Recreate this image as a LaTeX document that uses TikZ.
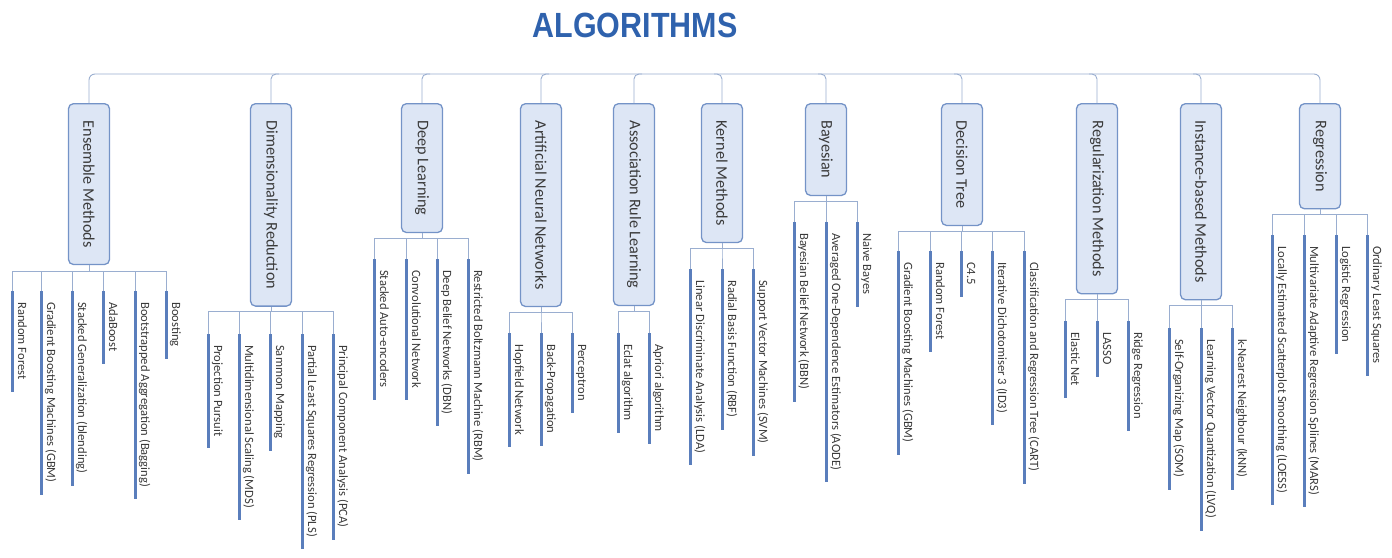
\documentclass[tikz,border=0pt]{standalone}
\usepackage{fontspec}
\setmainfont{Carlito}
\newfontfamily\headfont{Liberation Sans}
\definecolor{headblue}{HTML}{2F62AD}
\definecolor{boxfill}{HTML}{DDE6F5}
\definecolor{boxline}{HTML}{7493C7}
\definecolor{twigblue}{HTML}{9AAED0}
\definecolor{barblue}{HTML}{5A7EBC}
\definecolor{textgray}{HTML}{3A3A3A}
\begin{document}
\begin{tikzpicture}[x=1pt,y=-1pt,
		every node/.style={text=textgray},
		title/.style={text=headblue,font=\headfont\bfseries\fontsize{35}{35}\selectfont,xscale=0.87},
		cat/.style={draw=boxline,fill=boxfill,line width=1.3pt,rounded corners=5pt,rotate=-90,anchor=west,
			minimum height=41pt,inner xsep=17pt,font=\fontsize{16.2}{18}\selectfont},
		leaf/.style={rotate=-90,anchor=base west,inner sep=0pt,font=\fontsize{12.6}{14}\selectfont},
		twig/.style={draw=twigblue,line width=0.9pt},
		bar/.style={draw=barblue,line width=3pt}]
		
		\useasboundingbox (0,0) rectangle (1392,557);
		
		\node[title] (algo) at (635,25) {ALGORITHMS};
		\coordinate (top) at (635,74);
		
		\node[cat] (ens) at (89,103) {Ensemble Methods};
		\node[cat] (dim) at (271,103) {Dimensionality Reduction};
		\node[cat] (deep) at (422,103) {Deep Learning};
		\node[cat] (ann) at (541,103) {Artificial Neural Networks};
		\node[cat] (arl) at (634,103) {Association Rule Learning};
		\node[cat] (ker) at (722,103) {Kernel Methods};
		\node[cat] (bay) at (826,103) {Bayesian};
		\node[cat] (dt) at (962,103) {Decision Tree};
		\node[cat] (rgl) at (1097,103) {Regularization Methods};
		\node[cat] (ins) at (1201,103) {Instance-based Methods};
		\node[cat] (rgr) at (1320,103) {Regression};
		
		% top bus
		\draw[twig,rounded corners=6pt] (ens.west) |- (top) -| (rgr.west);
		\draw[twig,rounded corners=5pt] ([xshift=8pt]dim.west |- top) -| (dim.west);
		\draw[twig,rounded corners=5pt] ([xshift=8pt]deep.west |- top) -| (deep.west);
		\draw[twig,rounded corners=5pt] ([xshift=8pt]ann.west |- top) -| (ann.west);
		\draw[twig,rounded corners=5pt] ([xshift=8pt]arl.west |- top) -| (arl.west);
		\draw[twig,rounded corners=5pt] ([xshift=-8pt]ker.west |- top) -| (ker.west);
		\draw[twig,rounded corners=5pt] ([xshift=-8pt]bay.west |- top) -| (bay.west);
		\draw[twig,rounded corners=5pt] ([xshift=-8pt]dt.west |- top) -| (dt.west);
		\draw[twig,rounded corners=5pt] ([xshift=-8pt]rgl.west |- top) -| (rgl.west);
		\draw[twig,rounded corners=5pt] ([xshift=-8pt]ins.west |- top) -| (ins.west);
		
		% Ensemble Methods
		\coordinate (ens1) at (12,291);  \node[leaf] (ens1t) at ([shift={(6,11)}]ens1) {Random Forest};
		\coordinate (ens2) at (41,291);  \node[leaf] (ens2t) at ([shift={(6,11)}]ens2) {Gradient Boosting Machines (GBM)};
		\coordinate (ens3) at (72,291);  \node[leaf] (ens3t) at ([shift={(6,11)}]ens3) {Stacked Generalization (blending)};
		\coordinate (ens4) at (103,291); \node[leaf] (ens4t) at ([shift={(6,11)}]ens4) {AdaBoost};
		\coordinate (ens5) at (135,291); \node[leaf] (ens5t) at ([shift={(6,11)}]ens5) {Bootstrapped Aggregation (Bagging)};
		\coordinate (ens6) at (166,291); \node[leaf] (ens6t) at ([shift={(6,11)}]ens6) {Boosting};
		\draw[twig] (ens.east) -- ++(0,6) -| (ens1); \draw[bar] (ens1) -- ([yshift=-12pt]ens1 |- ens1t.east);
		\draw[twig] (ens.east) -- ++(0,6) -| (ens2); \draw[bar] (ens2) -- ([yshift=-12pt]ens2 |- ens2t.east);
		\draw[twig] (ens.east) -- ++(0,6) -| (ens3); \draw[bar] (ens3) -- ([yshift=-12pt]ens3 |- ens3t.east);
		\draw[twig] (ens.east) -- ++(0,6) -| (ens4); \draw[bar] (ens4) -- ([yshift=-12pt]ens4 |- ens4t.east);
		\draw[twig] (ens.east) -- ++(0,6) -| (ens5); \draw[bar] (ens5) -- ([yshift=-12pt]ens5 |- ens5t.east);
		\draw[twig] (ens.east) -- ++(0,6) -| (ens6); \draw[bar] (ens6) -- ([yshift=-12pt]ens6 |- ens6t.east);
		
		% Dimensionality Reduction
		\coordinate (dim1) at (208,334); \node[leaf] (dim1t) at ([shift={(6,11)}]dim1) {Projection Pursuit};
		\coordinate (dim2) at (239,334); \node[leaf] (dim2t) at ([shift={(6,11)}]dim2) {Multidimensional Scaling (MDS)};
		\coordinate (dim3) at (270,334); \node[leaf] (dim3t) at ([shift={(6,11)}]dim3) {Sammon Mapping};
		\coordinate (dim4) at (302,334); \node[leaf] (dim4t) at ([shift={(6,11)}]dim4) {Partial Least Squares Regression (PLS)};
		\coordinate (dim5) at (333,334); \node[leaf] (dim5t) at ([shift={(6,11)}]dim5) {Principal Component Analysis (PCA)};
		\draw[twig] (dim.east) -- ++(0,5) -| (dim1); \draw[bar] (dim1) -- ([yshift=-12pt]dim1 |- dim1t.east);
		\draw[twig] (dim.east) -- ++(0,5) -| (dim2); \draw[bar] (dim2) -- ([yshift=-12pt]dim2 |- dim2t.east);
		\draw[twig] (dim.east) -- ++(0,5) -| (dim3); \draw[bar] (dim3) -- ([yshift=-12pt]dim3 |- dim3t.east);
		\draw[twig] (dim.east) -- ++(0,5) -| (dim4); \draw[bar] (dim4) -- ([yshift=-12pt]dim4 |- dim4t.east);
		\draw[twig] (dim.east) -- ++(0,5) -| (dim5); \draw[bar] (dim5) -- ([yshift=-12pt]dim5 |- dim5t.east);
		
		% Deep Learning
		\coordinate (deep1) at (374,259); \node[leaf] (deep1t) at ([shift={(6,11)}]deep1) {Stacked Auto-encoders};
		\coordinate (deep2) at (406,259); \node[leaf] (deep2t) at ([shift={(6,11)}]deep2) {Convolutional Network};
		\coordinate (deep3) at (437,259); \node[leaf] (deep3t) at ([shift={(6,11)}]deep3) {Deep Belief Networks (DBN)};
		\coordinate (deep4) at (468,259); \node[leaf] (deep4t) at ([shift={(6,11)}]deep4) {Restricted Boltzmann Machine (RBM)};
		\draw[twig] (deep.east) -- ++(0,5) -| (deep1); \draw[bar] (deep1) -- ([yshift=-12pt]deep1 |- deep1t.east);
		\draw[twig] (deep.east) -- ++(0,5) -| (deep2); \draw[bar] (deep2) -- ([yshift=-12pt]deep2 |- deep2t.east);
		\draw[twig] (deep.east) -- ++(0,5) -| (deep3); \draw[bar] (deep3) -- ([yshift=-12pt]deep3 |- deep3t.east);
		\draw[twig] (deep.east) -- ++(0,5) -| (deep4); \draw[bar] (deep4) -- ([yshift=-12pt]deep4 |- deep4t.east);
		
		% Artificial Neural Networks
		\coordinate (ann1) at (509,333); \node[leaf] (ann1t) at ([shift={(6,11)}]ann1) {Hopfield Network};
		\coordinate (ann2) at (541,333); \node[leaf] (ann2t) at ([shift={(6,11)}]ann2) {Back-Propagation};
		\coordinate (ann3) at (572,333); \node[leaf] (ann3t) at ([shift={(6,11)}]ann3) {Perceptron};
		\draw[twig] (ann.east) -- ++(0,5) -| (ann1); \draw[bar] (ann1) -- ([yshift=-12pt]ann1 |- ann1t.east);
		\draw[twig] (ann.east) -- ++(0,5) -| (ann2); \draw[bar] (ann2) -- ([yshift=-12pt]ann2 |- ann2t.east);
		\draw[twig] (ann.east) -- ++(0,5) -| (ann3); \draw[bar] (ann3) -- ([yshift=-12pt]ann3 |- ann3t.east);
		
		% Association Rule Learning
		\coordinate (arl1) at (618,333); \node[leaf] (arl1t) at ([shift={(6,11)}]arl1) {Eclat algorithm};
		\coordinate (arl2) at (649,333); \node[leaf] (arl2t) at ([shift={(6,11)}]arl2) {Apriori algorithm};
		\draw[twig] (arl.east) -- ++(0,5) -| (arl1); \draw[bar] (arl1) -- ([yshift=-12pt]arl1 |- arl1t.east);
		\draw[twig] (arl.east) -- ++(0,5) -| (arl2); \draw[bar] (arl2) -- ([yshift=-12pt]arl2 |- arl2t.east);
		
		% Kernel Methods
		\coordinate (ker1) at (690,269); \node[leaf] (ker1t) at ([shift={(6,11)}]ker1) {Linear Discriminate Analysis (LDA)};
		\coordinate (ker2) at (722,269); \node[leaf] (ker2t) at ([shift={(6,11)}]ker2) {Radial Basis Function (RBF)};
		\coordinate (ker3) at (753,269); \node[leaf] (ker3t) at ([shift={(6,11)}]ker3) {Support Vector Machines (SVM)};
		\draw[twig] (ker.east) -- ++(0,5) -| (ker1); \draw[bar] (ker1) -- ([yshift=-12pt]ker1 |- ker1t.east);
		\draw[twig] (ker.east) -- ++(0,5) -| (ker2); \draw[bar] (ker2) -- ([yshift=-12pt]ker2 |- ker2t.east);
		\draw[twig] (ker.east) -- ++(0,5) -| (ker3); \draw[bar] (ker3) -- ([yshift=-12pt]ker3 |- ker3t.east);
		
		% Bayesian
		\coordinate (bay1) at (794,222); \node[leaf] (bay1t) at ([shift={(6,11)}]bay1) {Bayesian Belief Network (BBN)};
		\coordinate (bay2) at (826,222); \node[leaf] (bay2t) at ([shift={(6,11)}]bay2) {Averaged One-Dependence Estimators (AODE)};
		\coordinate (bay3) at (857,222); \node[leaf] (bay3t) at ([shift={(6,11)}]bay3) {Naive Bayes};
		\draw[twig] (bay.east) -- ++(0,5) -| (bay1); \draw[bar] (bay1) -- ([yshift=-12pt]bay1 |- bay1t.east);
		\draw[twig] (bay.east) -- ++(0,5) -| (bay2); \draw[bar] (bay2) -- ([yshift=-12pt]bay2 |- bay2t.east);
		\draw[twig] (bay.east) -- ++(0,5) -| (bay3); \draw[bar] (bay3) -- ([yshift=-12pt]bay3 |- bay3t.east);
		
		% Decision Tree
		\coordinate (dt1) at (898,251);  \node[leaf] (dt1t) at ([shift={(6,11)}]dt1) {Gradient Boosting Machines (GBM)};
		\coordinate (dt2) at (930,251);  \node[leaf] (dt2t) at ([shift={(6,11)}]dt2) {Random Forest};
		\coordinate (dt3) at (961,251);  \node[leaf] (dt3t) at ([shift={(6,11)}]dt3) {C4.5};
		\coordinate (dt4) at (992,251);  \node[leaf] (dt4t) at ([shift={(6,11)}]dt4) {Iterative Dichotomiser 3 (ID3)};
		\coordinate (dt5) at (1024,251); \node[leaf] (dt5t) at ([shift={(6,11)}]dt5) {Classification and Regression Tree (CART)};
		\draw[twig] (dt.east) -- ++(0,5) -| (dt1); \draw[bar] (dt1) -- ([yshift=-12pt]dt1 |- dt1t.east);
		\draw[twig] (dt.east) -- ++(0,5) -| (dt2); \draw[bar] (dt2) -- ([yshift=-12pt]dt2 |- dt2t.east);
		\draw[twig] (dt.east) -- ++(0,5) -| (dt3); \draw[bar] (dt3) -- ([yshift=-12pt]dt3 |- dt3t.east);
		\draw[twig] (dt.east) -- ++(0,5) -| (dt4); \draw[bar] (dt4) -- ([yshift=-12pt]dt4 |- dt4t.east);
		\draw[twig] (dt.east) -- ++(0,5) -| (dt5); \draw[bar] (dt5) -- ([yshift=-12pt]dt5 |- dt5t.east);
		
		% Regularization Methods
		\coordinate (rgl1) at (1065,321); \node[leaf] (rgl1t) at ([shift={(6,11)}]rgl1) {Elastic Net};
		\coordinate (rgl2) at (1097,321); \node[leaf] (rgl2t) at ([shift={(6,11)}]rgl2) {LASSO};
		\coordinate (rgl3) at (1128,321); \node[leaf] (rgl3t) at ([shift={(6,11)}]rgl3) {Ridge Regression};
		\draw[twig] (rgl.east) -- ++(0,5) -| (rgl1); \draw[bar] (rgl1) -- ([yshift=-12pt]rgl1 |- rgl1t.east);
		\draw[twig] (rgl.east) -- ++(0,5) -| (rgl2); \draw[bar] (rgl2) -- ([yshift=-12pt]rgl2 |- rgl2t.east);
		\draw[twig] (rgl.east) -- ++(0,5) -| (rgl3); \draw[bar] (rgl3) -- ([yshift=-12pt]rgl3 |- rgl3t.east);
		
		% Instance-based Methods
		\coordinate (ins1) at (1169,328); \node[leaf] (ins1t) at ([shift={(6,11)}]ins1) {Self-Organizing Map (SOM)};
		\coordinate (ins2) at (1201,328); \node[leaf] (ins2t) at ([shift={(6,11)}]ins2) {Learning Vector Quantization (LVQ)};
		\coordinate (ins3) at (1232,328); \node[leaf] (ins3t) at ([shift={(6,11)}]ins3) {k-Nearest Neighbour (kNN)};
		\draw[twig] (ins.east) -- ++(0,5) -| (ins1); \draw[bar] (ins1) -- ([yshift=-12pt]ins1 |- ins1t.east);
		\draw[twig] (ins.east) -- ++(0,5) -| (ins2); \draw[bar] (ins2) -- ([yshift=-12pt]ins2 |- ins2t.east);
		\draw[twig] (ins.east) -- ++(0,5) -| (ins3); \draw[bar] (ins3) -- ([yshift=-12pt]ins3 |- ins3t.east);
		
		% Regression
		\coordinate (rgr1) at (1272,235); \node[leaf] (rgr1t) at ([shift={(6,11)}]rgr1) {Locally Estimated Scatterplot Smoothing (LOESS)};
		\coordinate (rgr2) at (1304,235); \node[leaf] (rgr2t) at ([shift={(6,11)}]rgr2) {Multivariate Adaptive Regression Splines (MARS)};
		\coordinate (rgr3) at (1336,235); \node[leaf] (rgr3t) at ([shift={(6,11)}]rgr3) {Logistic Regression};
		\coordinate (rgr4) at (1367,235); \node[leaf] (rgr4t) at ([shift={(6,11)}]rgr4) {Ordinary Least Squares};
		\draw[twig] (rgr.east) -- ++(0,5) -| (rgr1); \draw[bar] (rgr1) -- ([yshift=-12pt]rgr1 |- rgr1t.east);
		\draw[twig] (rgr.east) -- ++(0,5) -| (rgr2); \draw[bar] (rgr2) -- ([yshift=-12pt]rgr2 |- rgr2t.east);
		\draw[twig] (rgr.east) -- ++(0,5) -| (rgr3); \draw[bar] (rgr3) -- ([yshift=-12pt]rgr3 |- rgr3t.east);
		\draw[twig] (rgr.east) -- ++(0,5) -| (rgr4); \draw[bar] (rgr4) -- ([yshift=-12pt]rgr4 |- rgr4t.east);
		\end{tikzpicture}
\end{document}
